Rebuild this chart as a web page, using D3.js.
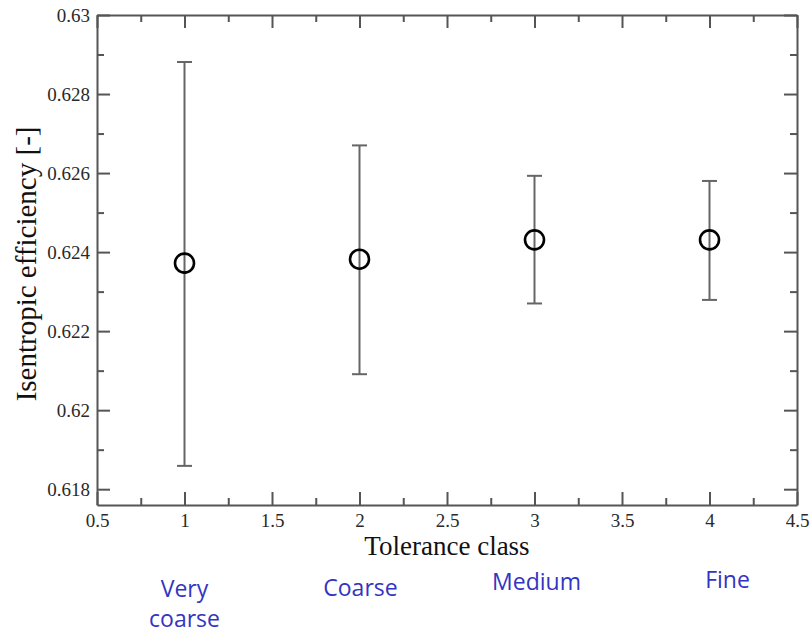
<!DOCTYPE html>
<html>
  <head>
    <meta charset="utf-8" />
    <title>Isentropic efficiency vs tolerance class</title>
    <style>
      body {
        margin: 0;
        background: #fff;
      }
      svg text {
        font-family: "Liberation Serif", "Times New Roman", serif;
      }
      .frame path,
      .frame line {
        stroke: #555;
      }
      svg text.cat {
        font-family: "Open Sans", sans-serif;
        fill: #3434c2;
      }
    </style>
    <script src="https://d3js.org/d3.v7.min.js" charset="utf-8"></script>
  </head>
  <body>
    <script>
      // data
      const classes = [1, 2, 3, 4];
      const means = [0.62372, 0.62382, 0.62431, 0.62431];
      const lows = [0.61859, 0.62091, 0.6227, 0.62279];
      const highs = [0.62881, 0.6267, 0.62593, 0.6258];
      const classNames = [["Very", "coarse"], ["Coarse"], ["Medium"], ["Fine"]];
      const xTicks = [0.5, 1, 1.5, 2, 2.5, 3, 3.5, 4, 4.5];
      const yTicks = [0.618, 0.62, 0.622, 0.624, 0.626, 0.628, 0.63];

      const width = 811,
        height = 635;
      const margin = { top: 15, right: 14, bottom: 130, left: 97 };
      const w = width - margin.left - margin.right,
        h = height - margin.top - margin.bottom;

      const x = d3.scaleLinear().domain([0.5, 4.5]).range([0, w]);
      const y = d3.scaleLinear().domain([0.6176, 0.63]).range([h, 0]);

      const svg = d3
        .select("body")
        .append("svg")
        .attr("width", width)
        .attr("height", height);

      const g = svg
        .append("g")
        .attr("transform", "translate(" + margin.left + "," + margin.top + ")");

      const xMinor = d3.range(0.75, 4.5, 0.5);
      const yMinor = d3.range(0.619, 0.6295, 0.002);

      function fmt(d) {
        return String(+d.toFixed(4));
      }

      // bottom axis (inward ticks)
      const axBottom = g
        .append("g")
        .attr("class", "frame")
        .attr("transform", "translate(0," + h + ")")
        .call(d3.axisBottom(x).tickValues(xTicks).tickFormat(fmt).tickSizeInner(-13).tickSizeOuter(0).tickPadding(9));
      axBottom
        .append("g")
        .call(d3.axisBottom(x).tickValues(xMinor).tickFormat("").tickSize(-7))
        .select(".domain")
        .remove();

      // left axis
      const axLeft = g
        .append("g")
        .attr("class", "frame")
        .call(d3.axisLeft(y).tickValues(yTicks).tickFormat(fmt).tickSizeInner(-13).tickSizeOuter(0).tickPadding(7));
      axLeft
        .append("g")
        .call(d3.axisLeft(y).tickValues(yMinor).tickFormat("").tickSize(-7))
        .select(".domain")
        .remove();

      // top axis
      const axTop = g
        .append("g")
        .attr("class", "frame")
        .call(d3.axisTop(x).tickValues(xTicks).tickFormat("").tickSizeInner(-13).tickSizeOuter(0));
      axTop
        .append("g")
        .call(d3.axisTop(x).tickValues(xMinor).tickFormat("").tickSize(-7))
        .select(".domain")
        .remove();

      // right axis
      const axRight = g
        .append("g")
        .attr("class", "frame")
        .attr("transform", "translate(" + w + ",0)")
        .call(d3.axisRight(y).tickValues(yTicks).tickFormat("").tickSizeInner(-13).tickSizeOuter(0));
      axRight
        .append("g")
        .call(d3.axisRight(y).tickValues(yMinor).tickFormat("").tickSize(-7))
        .select(".domain")
        .remove();

      g.selectAll(".frame path, .frame line").attr("stroke-width", 2);
      g.selectAll(".tick text")
        .style("font-size", "19px")
        .style("font-family", "'Liberation Serif', serif")
        .attr("fill", "#2a2a2a");

      // error bars
      const bars = g
        .selectAll(".bar")
        .data(classes)
        .join("g")
        .attr("class", "bar")
        .attr("stroke", "#666")
        .attr("stroke-width", 2);

      bars
        .append("line")
        .attr("x1", (d) => x(d))
        .attr("x2", (d) => x(d))
        .attr("y1", (d, i) => y(lows[i]))
        .attr("y2", (d, i) => y(highs[i]));

      bars
        .append("line")
        .attr("x1", (d) => x(d) - 7.5)
        .attr("x2", (d) => x(d) + 7.5)
        .attr("y1", (d, i) => y(highs[i]))
        .attr("y2", (d, i) => y(highs[i]));

      bars
        .append("line")
        .attr("x1", (d) => x(d) - 7.5)
        .attr("x2", (d) => x(d) + 7.5)
        .attr("y1", (d, i) => y(lows[i]))
        .attr("y2", (d, i) => y(lows[i]));

      g.selectAll(".pt")
        .data(classes)
        .join("circle")
        .attr("class", "pt")
        .attr("cx", (d) => x(d))
        .attr("cy", (d, i) => y(means[i]))
        .attr("r", 9.5)
        .attr("fill", "none")
        .attr("stroke", "#000")
        .attr("stroke-width", 2.6);

      // axis titles
      svg
        .append("text")
        .attr("x", margin.left + w / 2)
        .attr("y", 555)
        .attr("text-anchor", "middle")
        .style("font-size", "27px")
        .attr("fill", "#111")
        .text("Tolerance class");

      svg
        .append("text")
        .attr("transform", "translate(36," + (margin.top + y(0.6237)) + ")rotate(-90)")
        .attr("text-anchor", "middle")
        .style("font-size", "29px")
        .attr("fill", "#111")
        .text("Isentropic efficiency [-]");

      // category names below the axis
      const catBase = [597, 596, 590, 588];
      const catDx = [0, 1, 2, 18];
      svg
        .selectAll(".cat")
        .data(classNames)
        .join("text")
        .attr("class", "cat")
        .attr("text-anchor", "middle")
        .style("font-size", "23px")
        .attr("x", (d, i) => margin.left + x(classes[i]) + catDx[i])
        .attr("y", (d, i) => catBase[i])
        .selectAll("tspan")
        .data((d) => d)
        .join("tspan")
        .attr("x", function () {
          return this.parentNode.getAttribute("x");
        })
        .attr("dy", (d, j) => (j ? 30 : 0))
        .text((d) => d);
    </script>
  </body>
</html>
